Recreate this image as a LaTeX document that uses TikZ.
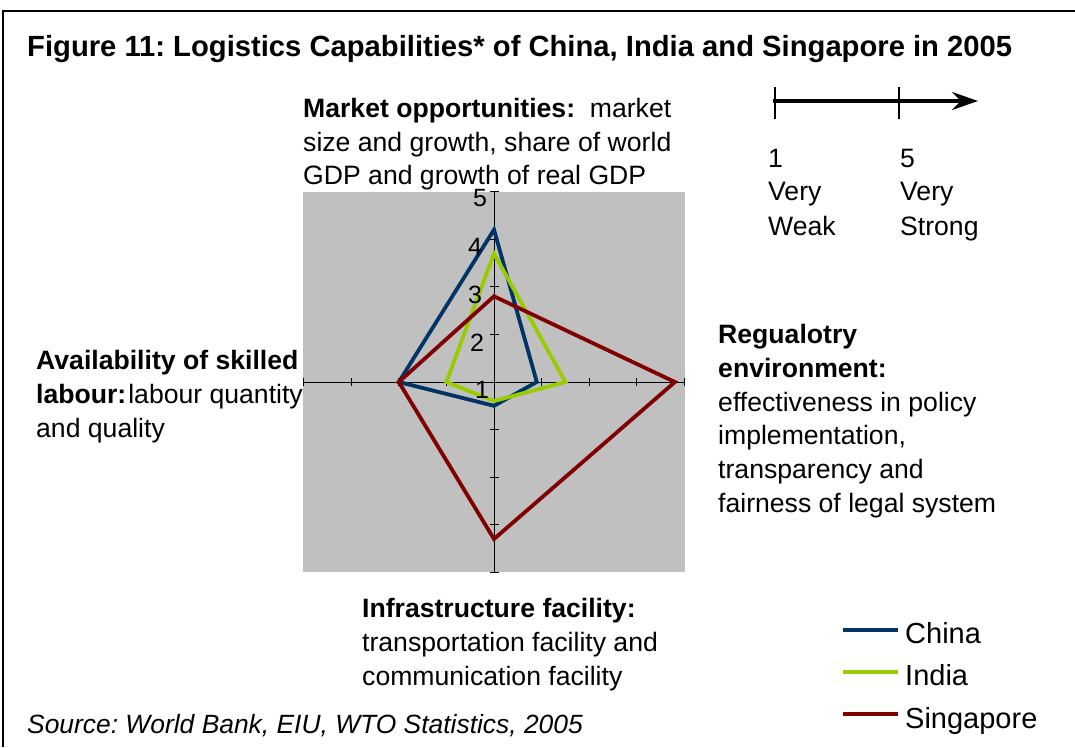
\documentclass[tikz,border=0pt]{standalone}
\usepackage{fontspec}
\setmainfont{Liberation Sans}
\usetikzlibrary{arrows.meta}
\definecolor{chinac}{HTML}{003366}
\definecolor{indiac}{HTML}{99CC00}
\definecolor{singc}{HTML}{800000}
\definecolor{plotbg}{HTML}{C0C0C0}
\frenchspacing
\begin{document}
\begin{tikzpicture}[x=1pt,y=-1pt,
  body/.style={font=\fontsize{26.6}{32}\selectfont, anchor=base west, inner sep=0pt},
  bodyb/.style={body, font=\fontsize{26.6}{32}\selectfont\bfseries},
  titlef/.style={anchor=base west, inner sep=0pt, font=\fontsize{29.2}{34}\selectfont\bfseries},
  legf/.style={anchor=base west, inner sep=0pt, font=\fontsize{29}{34}\selectfont},
  srcf/.style={anchor=base west, inner sep=0pt, font=\fontsize{26.4}{32}\selectfont\itshape},
  digit/.style={inner sep=0pt, font=\fontsize{25}{28}\selectfont},
  series/.style={line width=3.8pt, line join=miter},
  axisline/.style={line width=1pt, black},
  frameline/.style={line width=1.5pt, black}]
\useasboundingbox (0,0) rectangle (1075,747);
% frame
\coordinate (fb) at (3,747);
\coordinate (ftl) at (3,11);
\coordinate (fr) at (1075,11);
\draw[frameline] (fb) -- (ftl) -- (fr);
% title
\node[titlef] (title) at (27,56) {Figure 11: Logistics Capabilities* of China, India and Singapore in 2005};
% chart background
\fill[plotbg] (303,192) rectangle (685,572);
% axes
\coordinate (axl) at (303,382);
\coordinate (axr) at (685,382);
\coordinate (axt) at (494,192);
\coordinate (axb) at (494,572);
\draw[axisline] (axl) -- (axr);
\draw[axisline] (axt) -- (axb);
\foreach \i in {-4,...,4}{
  \draw[axisline] ({494+\i*47.6},378) -- ({494+\i*47.6},386);
  \draw[axisline] (490,{382+\i*47.6}) -- (499,{382+\i*47.6});
}
% series
\draw[series, chinac] (494,229.7) -- (536.8,382) -- (494,405.8) -- (398.8,382) -- cycle;
\draw[series, indiac] (494,253.5) -- (565.4,382) -- (494,401) -- (446.4,382) -- cycle;
\draw[series, singc] (494,296.3) -- (674.9,382) -- (494,539) -- (398.8,382) -- cycle;
% axis digits
\node[digit] (d5) at (480,198) {5};
\node[digit] (d4) at (475,247) {4};
\node[digit] (d3) at (475,295) {3};
\node[digit] (d2) at (477,343) {2};
\node[digit] (d1) at (482,390) {1};
% top text
\node[body] (t1) at (303,117) {\textbf{Market opportunities:}\ \ market};
\node[body] (t2) at (303,151) {size and growth, share of world};
\node[body] (t3) at (303,184) {GDP and growth of real GDP};
% left text
\node[bodyb] (l1) at (36,369) {Availability of skilled};
\node[body] (l2) at (36,403) {\textbf{labour:}\hspace{2pt}labour quantity};
\node[body] (l3) at (36,437) {and quality};
% right text
\node[bodyb] (r1) at (718,343) {Regualotry};
\node[bodyb] (r2) at (718,377) {environment:};
\node[body] (r3) at (718,411) {effectiveness in policy};
\node[body] (r4) at (718,444) {implementation,};
\node[body] (r5) at (718,478) {transparency and};
\node[body] (r6) at (718,512) {fairness of legal system};
% bottom text
\node[bodyb] (b1) at (362,617) {Infrastructure facility:};
\node[body] (b2) at (362,651) {transportation facility and};
\node[body] (b3) at (362,685) {communication facility};
% source
\node[srcf] (src) at (27,733) {Source: World Bank, EIU, WTO Statistics, 2005};
% scale
\coordinate (sa) at (773,101);
\coordinate (sb) at (978,101);
\coordinate (k1t) at (775,87);
\coordinate (k1b) at (775,119);
\coordinate (k5t) at (899,87);
\coordinate (k5b) at (899,119);
\draw[line width=3.5pt, -{Stealth[length=26pt,width=18pt,inset=9pt]}] (sa) -- (sb);
\draw[line width=1.5pt] (k1t) -- (k1b);
\draw[line width=1.5pt] (k5t) -- (k5b);
\node[body] (s1) at (768,167) {1};
\node[body] (s2) at (768,200) {Very};
\node[body] (s3) at (768,235) {Weak};
\node[body] (s4) at (900,167) {5};
\node[body] (s5) at (900,200) {Very};
\node[body] (s6) at (900,235) {Strong};
% legend
\coordinate (lc1) at (843,630); \coordinate (lc2) at (898,630);
\coordinate (li1) at (843,672); \coordinate (li2) at (898,672);
\coordinate (ls1) at (843,714); \coordinate (ls2) at (898,714);
\draw[line width=4pt, chinac] (lc1) -- (lc2);
\draw[line width=4pt, indiac] (li1) -- (li2);
\draw[line width=4pt, singc] (ls1) -- (ls2);
\node[legf] (lgc) at (905,643) {China};
\node[legf] (lgi) at (905,685) {India};
\node[legf] (lgs) at (905,728) {Singapore};
\end{tikzpicture}
\end{document}
